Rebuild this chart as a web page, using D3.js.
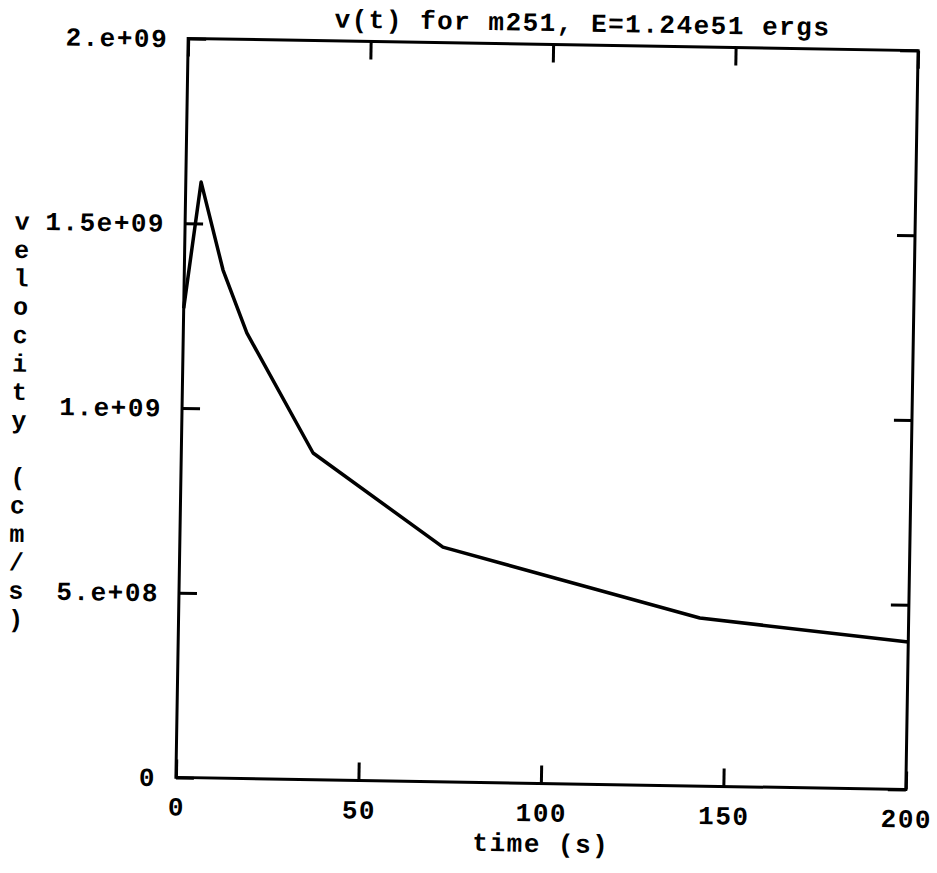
<!DOCTYPE html>
<html>
<head>
<meta charset="utf-8">
<script src="https://cdn.jsdelivr.net/npm/d3@7"></script>
<style>
  body { margin: 0; background: #fff; }
  text { font-family: "Liberation Mono", "DejaVu Sans Mono", monospace; font-weight: bold; font-size: 26px; letter-spacing: 1.5px; fill: #000; }
</style>
</head>
<body>
<script>
var w = 937;
var h = 873;

// plot frame (before the small tilt of the scan)
var margin = { top: 44.5, bottom: 89.5, left: 182, right: 25 };

// data
var time = [0, 4.2, 10.6, 17.4, 36.1, 72.1, 142.8, 200];
var velocity = [1.27e9, 1.612e9, 1.375e9, 1.206e9, 0.884e9, 0.635e9, 0.455e9, 0.399e9];

var xTicks = [0, 50, 100, 150, 200];
var xTickLabels = ["0", "50", "100", "150", "200"];
var yTicks = [0, 5e8, 1e9, 1.5e9, 2e9];
var yTickLabels = ["0", "5.e+08", "1.e+09", "1.5e+09", "2.e+09"];

var title = "v(t) for m251, E=1.24e51 ergs";
var xLabel = "time (s)";
var yLabel = "velocity (cm/s)";

var x = d3.scaleLinear()
  .domain([0, 200])
  .range([margin.left, w - margin.right]);

var y = d3.scaleLinear()
  .domain([0, 2e9])
  .range([h - margin.bottom, margin.top]);

var svg = d3.select("body").append("svg")
  .attr("width", w)
  .attr("height", h);

// the scanned page is tilted a little clockwise
var chart = svg.append("g")
  .attr("transform", "rotate(0.95,547,414)");

// axes: ticks pointing inward on all four sides
function ticksOnly(g) {
  g.select(".domain").remove();
  g.selectAll(".tick line").attr("stroke", "#000").attr("stroke-width", 3);
}

chart.append("g")
  .attr("transform", "translate(0," + y(0) + ")")
  .call(d3.axisBottom(x).tickValues(xTicks).tickSizeInner(-18).tickSizeOuter(0).tickFormat(""))
  .call(ticksOnly);

chart.append("g")
  .attr("transform", "translate(0," + y(2e9) + ")")
  .call(d3.axisTop(x).tickValues(xTicks).tickSizeInner(-18).tickSizeOuter(0).tickFormat(""))
  .call(ticksOnly);

chart.append("g")
  .attr("transform", "translate(" + x(0) + ",0)")
  .call(d3.axisLeft(y).tickValues(yTicks).tickSizeInner(-18).tickSizeOuter(0).tickFormat(""))
  .call(ticksOnly);

chart.append("g")
  .attr("transform", "translate(" + x(200) + ",0)")
  .call(d3.axisRight(y).tickValues(yTicks).tickSizeInner(-18).tickSizeOuter(0).tickFormat(""))
  .call(ticksOnly);

// frame
chart.append("rect")
  .attr("x", x(0))
  .attr("y", y(2e9))
  .attr("width", x(200) - x(0))
  .attr("height", y(0) - y(2e9))
  .attr("fill", "none")
  .attr("stroke", "#000")
  .attr("stroke-width", 3);

// tick labels
chart.selectAll(".xlab")
  .data(xTicks)
  .enter()
  .append("text")
  .attr("x", function (d) { return x(d) + 1; })
  .attr("y", y(0) + 38)
  .attr("text-anchor", "middle")
  .text(function (d, i) { return xTickLabels[i]; });

chart.selectAll(".ylab")
  .data(yTicks)
  .enter()
  .append("text")
  .attr("x", x(0) - 20)
  .attr("y", function (d) { return y(d) + 9; })
  .attr("text-anchor", "end")
  .text(function (d, i) { return yTickLabels[i]; });

// data line
var line = d3.line()
  .x(function (d, i) { return x(time[i]); })
  .y(function (d) { return y(d); });

chart.append("path")
  .datum(velocity)
  .attr("d", line)
  .attr("fill", "none")
  .attr("stroke", "#000")
  .attr("stroke-width", 3.5)
  .attr("stroke-linejoin", "round");

// title and axis titles
chart.append("text")
  .attr("x", 576)
  .attr("y", 31)
  .attr("text-anchor", "middle")
  .attr("xml:space", "preserve")
  .text(title);

chart.append("text")
  .attr("x", (x(0) + x(200)) / 2 + 1)
  .attr("y", 852)
  .attr("text-anchor", "middle")
  .text(xLabel);

// vertical label, one letter per line
chart.selectAll(".yletter")
  .data(yLabel.split(""))
  .enter()
  .append("text")
  .attr("x", 19)
  .attr("y", function (d, i) { return y(1.5e9) + 9 + i * 28.4; })
  .attr("text-anchor", "middle")
  .style("font-size", "25px")
  .style("letter-spacing", "0px")
  .text(function (d) { return d; });
</script>
</body>
</html>
